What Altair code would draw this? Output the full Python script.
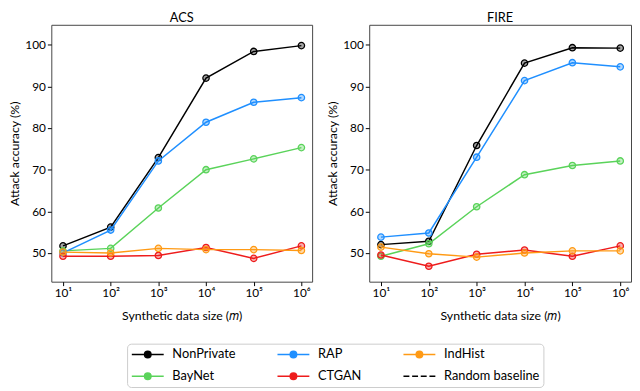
import altair as alt
import pandas as pd

sizes = [10, 100, 1000, 10000, 100000, 1000000]

series_order = ["NonPrivate", "BayNet", "RAP", "CTGAN", "IndHist", "Random baseline"]
series_colors = ["#000000", "#5ad35a", "#1f8fff", "#ee1c1c", "#ff9a14", "#000000"]
draw_order = ["NonPrivate", "BayNet", "RAP", "CTGAN", "IndHist"]

acs_nonprivate = [51.7, 56.2, 72.9, 92.0, 98.4, 99.8]
acs_rap = [50.0, 55.5, 72.1, 81.4, 86.2, 87.3]
acs_baynet = [50.5, 51.1, 60.8, 70.0, 72.6, 75.3]
acs_indhist = [50.2, 50.0, 51.1, 50.8, 50.8, 50.6]
acs_ctgan = [49.2, 49.2, 49.4, 51.3, 48.7, 51.7]

fire_nonprivate = [52.0, 52.8, 75.8, 95.6, 99.3, 99.2]
fire_rap = [53.8, 54.8, 73.0, 91.4, 95.7, 94.7]
fire_baynet = [49.2, 52.2, 61.1, 68.8, 71.0, 72.1]
fire_indhist = [51.4, 49.8, 49.0, 50.0, 50.5, 50.5]
fire_ctgan = [49.5, 46.8, 49.7, 50.7, 49.2, 51.7]

acs = {"NonPrivate": acs_nonprivate, "RAP": acs_rap, "BayNet": acs_baynet,
       "IndHist": acs_indhist, "CTGAN": acs_ctgan}
fire = {"NonPrivate": fire_nonprivate, "RAP": fire_rap, "BayNet": fire_baynet,
        "IndHist": fire_indhist, "CTGAN": fire_ctgan}

# legend symbols: line with circle marker, and dashed line
line_marker = ("M-2.7,0H-0.55M0.55,0H2.7M-0.55,0A0.55,0.55,0,1,0,0.55,0"
               "A0.55,0.55,0,1,0,-0.55,0Z")
dashed = "M-2.7,0H-1.7M-1.23,0H-0.23M0.23,0H1.23M1.7,0H2.7"
legend_shapes = [line_marker] * 5 + [dashed]

FONT = "Lato"

col_scale = alt.Scale(domain=series_order, range=series_colors)
x_scale = alt.Scale(type="log", domain=[10 ** 0.755, 10 ** 6.225], nice=False)
y_scale = alt.Scale(domain=[43.1, 104.8], nice=False, zero=False)

sup = '["⁰","¹","²","³","⁴","⁵","⁶","⁷"]'
x_axis = alt.Axis(values=sizes, title="Synthetic data size (𝑚)",
                  labelExpr='"10" + ' + sup + '[round(log(datum.value)/LN10)]',
                  labelFlush=False)
y_axis = alt.Axis(values=[50, 60, 70, 80, 90, 100], title="Attack accuracy (%)")


def panel(data, title, with_legend, width):
    layers = []
    if with_legend:
        leg_df = pd.DataFrame({"series": series_order, "size": [10] * 6, "acc": [50] * 6})
        legend = alt.Legend(title=None, orient="none", legendX=77, legendY=324,
                            columns=3, symbolSize=144, symbolOffset=10,
                            labelOffset=18, columnPadding=38, rowPadding=8,
                            padding=4, strokeColor="#cccccc", cornerRadius=4,
                            fillColor="white", labelFont=FONT, labelFontSize=13,
                            symbolStrokeWidth=1.5, labelColor="#000")
        leg = alt.Chart(leg_df).transform_filter("false").mark_point(
            filled=True, fillOpacity=0.35, strokeWidth=1.5, opacity=1
        ).encode(
            x=alt.X("size:Q", scale=x_scale, axis=x_axis),
            y=alt.Y("acc:Q", scale=y_scale, axis=y_axis),
            fill=alt.Fill("series:N", scale=col_scale, legend=legend),
            stroke=alt.Stroke("series:N", scale=col_scale, legend=legend),
            shape=alt.Shape("series:N", scale=alt.Scale(domain=series_order, range=legend_shapes),
                            legend=legend),
        )
        layers.append(leg)
    for name in draw_order:
        df = pd.DataFrame({"size": sizes, "acc": data[name], "series": name})
        base = alt.Chart(df).encode(
            x=alt.X("size:Q", scale=x_scale, axis=x_axis),
            y=alt.Y("acc:Q", scale=y_scale, axis=y_axis),
        )
        ln = base.mark_line(strokeWidth=1.5).encode(
            stroke=alt.Stroke("series:N", scale=col_scale, legend=None))
        pt = base.mark_point(shape="circle", filled=True, size=42, fillOpacity=0.35,
                             strokeWidth=1.3, opacity=1).encode(
            fill=alt.Fill("series:N", scale=col_scale, legend=None),
            stroke=alt.Stroke("series:N", scale=col_scale, legend=None))
        layers += [ln, pt]
    return alt.layer(*layers).properties(
        width=width, height=261,
        title=alt.Title(title, fontSize=13, font=FONT, fontWeight="normal", offset=0),
    )


chart = alt.hconcat(panel(acs, "ACS", True, 265), panel(fire, "FIRE", False, 266),
                    spacing=13).properties(
    padding={"left": 0, "top": 0, "right": 0, "bottom": 0}
).configure_view(stroke="#444444", strokeWidth=1).configure_axis(
    domain=False, grid=False, tickColor="#000", tickSize=4, labelFont=FONT,
    labelFontSize=12, labelColor="#000", titleFont=FONT, titleFontSize=12.5,
    titleFontWeight="normal", titleColor="#000", labelPadding=2,
).configure_axisY(titlePadding=3).configure_axisX(titlePadding=11)

chart.save("out.html", embed_options={"renderer": "svg", "actions": False})
